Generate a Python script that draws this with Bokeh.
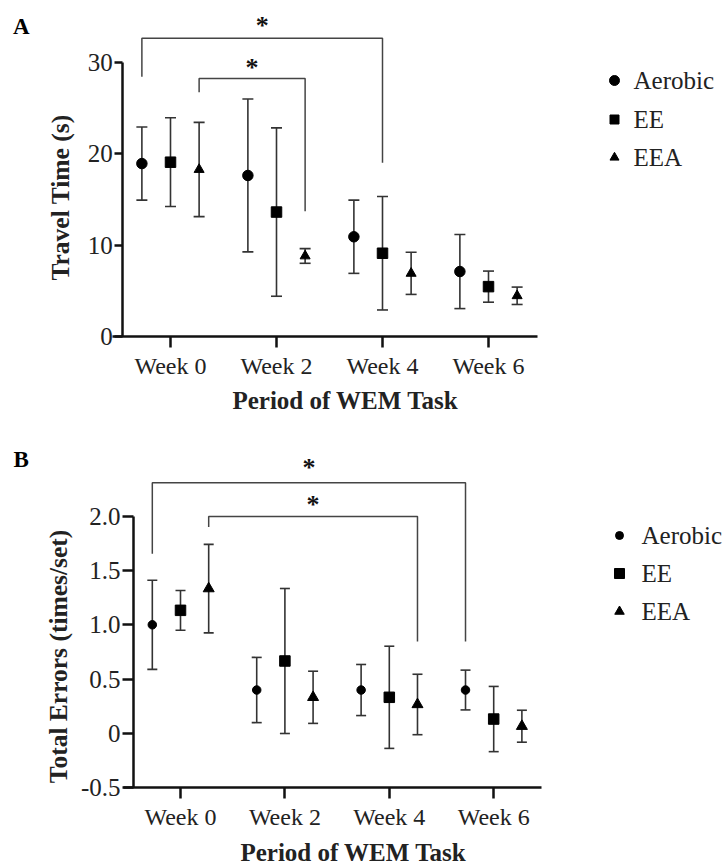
import math
from bokeh.plotting import figure
from bokeh.models import ColumnDataSource, Whisker, TeeHead, FixedTicker, Label, Range1d
from bokeh.layouts import column
from bokeh.embed import file_html
from bokeh.resources import INLINE
from bokeh.core.properties import value

# ---------------- data ----------------
weeks = ["Week 0", "Week 2", "Week 4", "Week 6"]
groups = ["Aerobic", "EE", "EEA"]
group_markers = ["circle", "square", "triangle"]

# Panel A: travel time (s), mean and SD
travel_aerobic = [18.9, 17.6, 10.9, 7.1]
travel_aerobic_sd = [4.0, 8.35, 4.0, 4.05]
travel_ee = [19.05, 13.6, 9.1, 5.45]
travel_ee_sd = [4.85, 9.2, 6.2, 1.7]
travel_eea = [18.25, 8.8, 6.9, 4.45]
travel_eea_sd = [5.15, 0.8, 2.3, 0.95]
travel_ticks = [0, 10, 20, 30]

# Panel B: total errors (times/set), mean and SD
errors_aerobic = [1.0, 0.4, 0.4, 0.4]
errors_aerobic_sd = [0.41, 0.3, 0.235, 0.183]
errors_ee = [1.133, 0.667, 0.333, 0.133]
errors_ee_sd = [0.183, 0.667, 0.47, 0.3]
errors_eea = [1.333, 0.333, 0.267, 0.067]
errors_eea_sd = [0.407, 0.24, 0.278, 0.147]
errors_ticks = [-0.5, 0, 0.5, 1.0, 1.5, 2.0]
errors_tick_labels = ["-0.5", "0", "0.5", "1.0", "1.5", "2.0"]

# significance brackets: (week, group) of each end, end heights, top height, star height
travel_brackets = dict(left_week=[0, 0], left_group=[0, 2], right_week=[2, 1], right_group=[1, 2],
                       left_end=[28.4, 26.7], top=[32.6, 28.2], right_end=[19.0, 13.7],
                       star=[34.24, 29.62])
errors_brackets = dict(left_week=[0, 0], left_group=[0, 2], right_week=[3, 2], right_group=[0, 2],
                       left_end=[1.653, 1.9], top=[2.306, 1.997], right_end=[0.846, 0.846],
                       star=[2.466, 2.128])

GROUP_OFFSET = 0.27
SERIF = "Liberation Serif"
INK = "#111111"
LINE = "#333333"


def gx(week, group):
    return week + (group - 1) * GROUP_OFFSET


def make_panel(height, xr, yr, means, sds, ticks, tick_labels, xaxis_at, yaxis_top,
               brackets, sizes, cap, ytick_out, legend_sizes, legend_pos, texts):
    p = figure(width=723, height=height, x_range=Range1d(*xr), y_range=Range1d(*yr),
               output_backend="svg", toolbar_location=None, min_border=0)
    p.grid.visible = False
    p.outline_line_color = None

    # axes
    xa = p.xaxis[0]
    ya = p.yaxis[0]
    xa.fixed_location = xaxis_at
    ya.fixed_location = -0.45
    xa.bounds = (-0.55, 3.46)
    ya.bounds = (xaxis_at, yaxis_top)
    xa.ticker = FixedTicker(ticks=list(range(len(weeks))))
    xa.major_label_overrides = {i: w for i, w in enumerate(weeks)}
    ya.ticker = FixedTicker(ticks=ticks)
    ya.major_label_overrides = {t: l for t, l in zip(ticks, tick_labels)}
    for ax, tout, fs in ((xa, 11, "24px"), (ya, ytick_out, "25px")):
        ax.axis_line_width = 2.5
        ax.axis_line_color = INK
        ax.major_tick_line_width = 2.5
        ax.major_tick_line_color = INK
        ax.major_tick_in = 0
        ax.major_tick_out = tout
        ax.minor_tick_line_color = None
        ax.major_label_text_font = SERIF
        ax.major_label_text_font_size = fs
        ax.major_label_text_color = "#222222"
    xa.major_label_standoff = 5
    ya.major_label_standoff = 2

    # error bars and markers
    for g in range(3):
        xs = [gx(w, g) for w in range(len(weeks))]
        src = ColumnDataSource(dict(x=xs, y=means[g],
                                    lo=[m - s for m, s in zip(means[g], sds[g])],
                                    hi=[m + s for m, s in zip(means[g], sds[g])]))
        wk = Whisker(source=src, base="x", lower="lo", upper="hi", dimension="height",
                     line_color=LINE, line_width=1.6,
                     upper_head=TeeHead(size=cap, line_color=LINE, line_width=1.6),
                     lower_head=TeeHead(size=cap, line_color=LINE, line_width=1.6))
        p.add_layout(wk)
        p.scatter("x", "y", source=src, marker=group_markers[g], size=sizes[g],
                  fill_color="black", line_color="black")

    # significance brackets
    bx, by, sx = [], [], []
    for i in range(len(brackets["top"])):
        xl = gx(brackets["left_week"][i], brackets["left_group"][i])
        xr_ = gx(brackets["right_week"][i], brackets["right_group"][i])
        t = brackets["top"][i]
        bx.append([xl, xl, xr_, xr_])
        by.append([brackets["left_end"][i], t, t, brackets["right_end"][i]])
        sx.append((xl + xr_) / 2)
    p.multi_line(bx, by, line_color="#444444", line_width=1.5)
    p.text(sx, brackets["star"], text=["*"] * len(sx), text_font=value(SERIF),
           text_font_style="bold", text_font_size="26px", text_align="center",
           text_baseline="alphabetic", y_offset=2, text_color=INK)

    # legend (markers + labels)
    lx, ltx, ly = legend_pos
    for g in range(3):
        p.scatter([lx], [ly[g]], marker=group_markers[g], size=legend_sizes[g],
                  fill_color="black", line_color="black")
    p.text([ltx] * 3, ly, text=groups, text_font=value(SERIF), text_font_size="25px",
           text_baseline="middle", text_align="left", text_color="#222222")

    # panel letter, axis titles
    (lt, ltxy), (ylab, ylxy), (xlab, xlxy) = texts
    p.add_layout(Label(x=ltxy[0], y=ltxy[1], text=lt, text_font=SERIF, text_font_style="bold",
                       text_font_size="23px", text_baseline="middle", text_color="black"))
    p.add_layout(Label(x=ylxy[0], y=ylxy[1], text=ylab, angle=math.pi / 2, text_font=SERIF,
                       text_font_style="bold", text_font_size="25.5px", text_align="center",
                       text_baseline="middle", text_color="#222222"))
    p.add_layout(Label(x=xlxy[0], y=xlxy[1], text=xlab, text_font=SERIF, text_font_style="bold",
                       text_font_size="25px", text_align="center", text_baseline="middle",
                       text_color="#222222"))
    return p


# ---------------- panel A layout (page px -> data) ----------------
A_TOP, A_H = 0, 438
A_W0, A_DX, A_Y0, A_DY = 170.0, 106.0, 336.0, 9.15
ax_ = lambda px: (px - A_W0) / A_DX
ay_ = lambda py: (A_Y0 - py) / A_DY
pA = make_panel(
    A_H, (ax_(0), ax_(723)), (ay_(A_TOP + A_H), ay_(A_TOP)),
    [travel_aerobic, travel_ee, travel_eea], [travel_aerobic_sd, travel_ee_sd, travel_eea_sd],
    travel_ticks, [str(t) for t in travel_ticks], 0, 30, travel_brackets,
    sizes=[10.5, 10.5, 10], cap=11, ytick_out=8, legend_sizes=[10, 9, 9],
    legend_pos=(ax_(614), ax_(633), [ay_(80), ay_(119), ay_(157)]),
    texts=[("A", (ax_(12.5), ay_(25.5))),
           ("Travel Time (s)", (ax_(60), ay_(197))),
           ("Period of WEM Task", (ax_(345), ay_(400)))])

# ---------------- panel B layout ----------------
B_TOP, B_H = 438, 427
B_W0, B_DX, B_Y0, B_DY = 180.0, 104.4, 733.0, 108.7
bx_ = lambda px: (px - B_W0) / B_DX
by_ = lambda py: (B_Y0 - py) / B_DY
pB = make_panel(
    B_H, (bx_(0), bx_(723)), (by_(B_TOP + B_H), by_(B_TOP)),
    [errors_aerobic, errors_ee, errors_eea], [errors_aerobic_sd, errors_ee_sd, errors_eea_sd],
    errors_ticks, errors_tick_labels, -0.5, 2.0, errors_brackets,
    sizes=[8.5, 10.5, 11], cap=10, ytick_out=11, legend_sizes=[8, 10, 9.5],
    legend_pos=(bx_(619), bx_(641), [by_(535), by_(573), by_(611)]),
    texts=[("B", (bx_(13), by_(459))),
           ("Total Errors (times/set)", (bx_(58), by_(656))),
           ("Period of WEM Task", (bx_(353), by_(852)))])

layout = column(pA, pB)
open("out.html", "w").write(file_html(layout, INLINE))
